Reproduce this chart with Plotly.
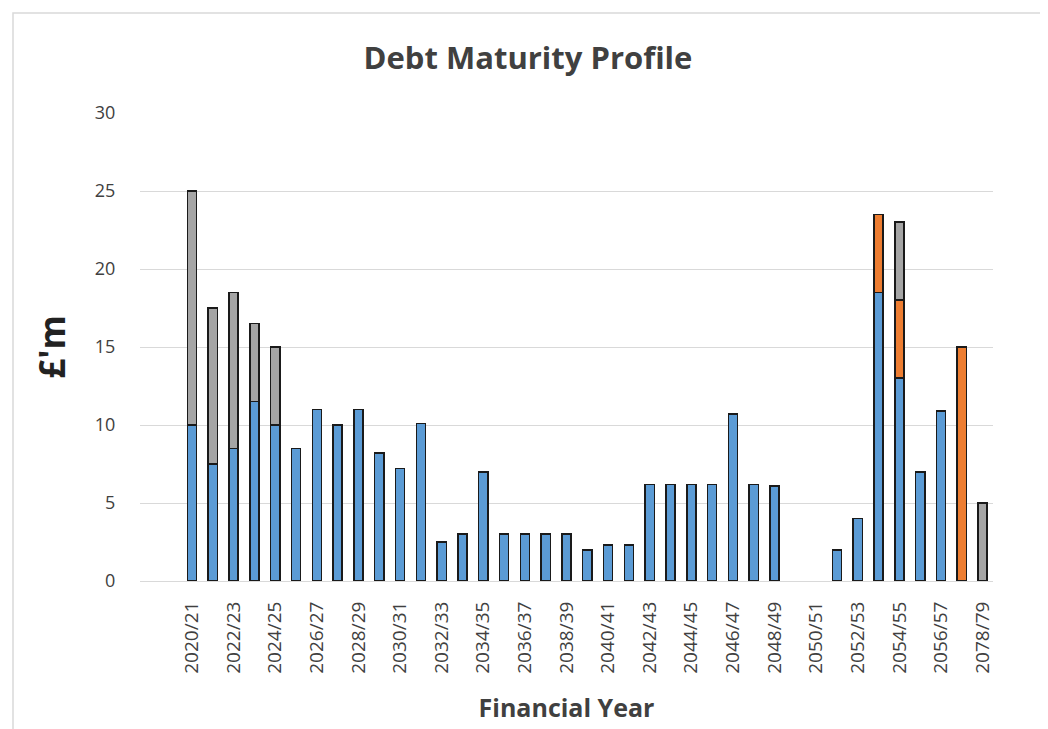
import plotly.graph_objects as go

categories = ["2020/21", "2021/22", "2022/23", "2023/24", "2024/25", "2025/26", "2026/27",
              "2027/28", "2028/29", "2029/30", "2030/31", "2031/32", "2032/33", "2033/34",
              "2034/35", "2035/36", "2036/37", "2037/38", "2038/39", "2039/40", "2040/41",
              "2041/42", "2042/43", "2043/44", "2044/45", "2045/46", "2046/47", "2047/48",
              "2048/49", "2049/50", "2050/51", "2051/52", "2052/53", "2053/54", "2054/55",
              "2055/56", "2056/57", "2057/58", "2078/79"]

series_blue = [10, 7.5, 8.5, 11.5, 10, 8.5, 11, 10, 11, 8.2, 7.2, 10.1, 2.5, 3, 7, 3, 3, 3, 3,
               2, 2.3, 2.3, 6.2, 6.2, 6.2, 6.2, 10.7, 6.2, 6.1, None, None, 2, 4, 18.5, 13,
               7, 10.9, None, None]
series_orange = [None] * 33 + [5, 5, None, None, 15, None]
series_grey = [15, 10, 10, 5, 5] + [None] * 29 + [5, None, None, None, 5]

tick_labels = categories[0:37:2] + [categories[38]]

FONT = "Open Sans"
TXT = "#404040"

# page body has an 8px margin; figure sized/margined to compensate
W, H = 1040, 721
L, T, R, B = 132, 105, 55, 148

fig = go.Figure()
for name, vals, col in [("Series 1", series_blue, "#5B9BD5"),
                        ("Series 2", series_orange, "#ED7D31"),
                        ("Series 3", series_grey, "#A5A5A5")]:
    fig.add_trace(go.Bar(x=categories, y=vals, name=name,
                         marker=dict(color=col, line=dict(color="#1a1a1a", width=1.5))))

fig.update_layout(
    barmode="stack",
    bargap=0.56,
    width=W, height=H,
    margin=dict(l=L, r=R, t=T, b=B),
    paper_bgcolor="white", plot_bgcolor="white",
    showlegend=False,
    title=dict(text="<b>Debt Maturity Profile</b>", x=0.5, xanchor="center",
               y=1 - 50 / H, yanchor="middle",
               font=dict(family=FONT, size=31, color=TXT)),
    font=dict(family=FONT, color=TXT),
    xaxis=dict(type="category", range=[-2.5, 38.5], tickangle=-90,
               tickmode="array", tickvals=tick_labels, ticktext=tick_labels,
               tickfont=dict(family=FONT, size=19, color=TXT),
               showgrid=False, showline=True, linecolor="#d9d9d9", linewidth=1,
               ticks="outside", ticklen=12, tickcolor="rgba(0,0,0,0)", zeroline=False,
               title=dict(text="<b>Financial Year</b>", standoff=26,
                          font=dict(family=FONT, size=25, color=TXT))),
    yaxis=dict(range=[0, 30], dtick=5, tickfont=dict(family=FONT, size=18, color=TXT),
               showgrid=True, gridcolor="#d9d9d9", gridwidth=1.3, zeroline=False,
               ticks="outside", ticklen=20, tickcolor="rgba(0,0,0,0)",
               title=dict(text="<b>£'m</b>", standoff=18,
                          font=dict(family=FONT, size=35, color="#222222"))),
)

fig.add_shape(type="rect", xref="paper", yref="paper",
              x0=(13 - 140) / 853, x1=1.2, y0=-0.5, y1=(581 - 13) / 468,
              line=dict(color="#d9d9d9", width=1.5), fillcolor="rgba(0,0,0,0)", layer="below")

fig.write_html("out.html")
